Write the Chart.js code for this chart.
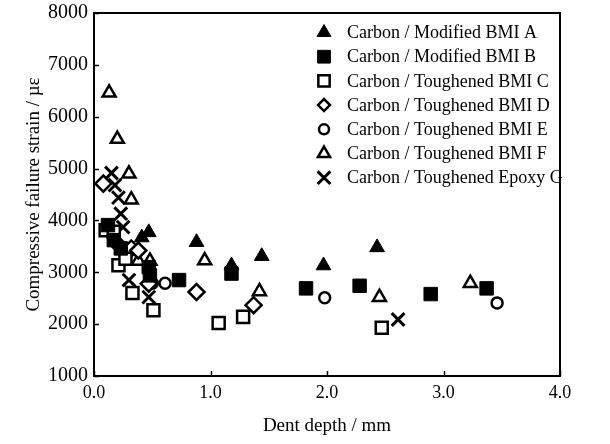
<!DOCTYPE html>
<html>
<head>
<meta charset="utf-8">
<title>Compressive failure strain vs dent depth</title>
<script src="https://cdn.jsdelivr.net/npm/chart.js"></script>
<style>
  html, body { margin: 0; padding: 0; background: #fff; }
  #wrap { width: 610px; height: 444px; }
</style>
</head>
<body>
<div id="wrap"><canvas id="chart"></canvas></div>
<script>
// --- Data: [dent depth (mm), compressive failure strain (µε)] ---
const seriesNames = [
  'Carbon / Modified BMI A',
  'Carbon / Modified BMI B',
  'Carbon / Toughened BMI C',
  'Carbon / Toughened BMI D',
  'Carbon / Toughened BMI E',
  'Carbon / Toughened BMI F',
  'Carbon / Toughened Epoxy G'
];
const modifiedA = [[0.41, 3670], [0.47, 3770], [0.88, 3580], [1.18, 3130], [1.44, 3310], [1.97, 3130], [2.43, 3480]];
const modifiedB = [[0.12, 3910], [0.17, 3620], [0.23, 3460], [0.47, 3100], [0.48, 2940], [0.73, 2850],
                   [1.18, 2975], [1.82, 2690], [2.28, 2740], [2.89, 2580], [3.37, 2690]];
const toughenedC = [[0.10, 3810], [0.17, 3780], [0.21, 3135], [0.27, 3260], [0.33, 2600], [0.51, 2270],
                    [1.07, 2020], [1.28, 2140], [2.47, 1930]];
const toughenedD = [[0.08, 4710], [0.20, 3550], [0.32, 3460], [0.38, 3420], [0.47, 2780], [0.88, 2620], [1.37, 2365]];
const toughenedE = [[0.50, 2790], [0.61, 2790], [1.98, 2510], [3.46, 2410]];
const toughenedF = [[0.13, 6460], [0.20, 5570], [0.30, 4900], [0.32, 4400], [0.38, 3220], [0.48, 3220],
                    [0.95, 3225], [1.42, 2630], [2.45, 2520], [3.23, 2790]];
const epoxyG = [[0.15, 4915], [0.18, 4680], [0.21, 4440], [0.23, 4130], [0.25, 3870], [0.30, 2850],
                [0.47, 2520], [2.61, 2090]];
const xTicks = [0, 1, 2, 3, 4];
const yTicks = [1000, 2000, 3000, 4000, 5000, 6000, 7000, 8000];

const serif = "'Liberation Serif', 'DejaVu Serif', serif";

// marker look for each series (same order as seriesNames)
const markers = [
  { pointStyle: 'triangle', pointRadius: 8.5, backgroundColor: '#000', borderColor: '#000', borderWidth: 1 },
  { pointStyle: 'rect',     pointRadius: 9.5, backgroundColor: '#000', borderColor: '#000', borderWidth: 1 },
  { pointStyle: 'rect',     pointRadius: 8.5, backgroundColor: '#fff', borderColor: '#000', borderWidth: 2.5 },
  { pointStyle: 'rectRot',  pointRadius: 8,   backgroundColor: '#fff', borderColor: '#000', borderWidth: 2.5 },
  { pointStyle: 'circle',   pointRadius: 5.5, backgroundColor: '#fff', borderColor: '#000', borderWidth: 2.5 },
  { pointStyle: 'triangle', pointRadius: 7.5, backgroundColor: '#fff', borderColor: '#000', borderWidth: 2.5 },
  { pointStyle: 'crossRot', pointRadius: 9,   backgroundColor: '#000', borderColor: '#000', borderWidth: 3 }
];
const legendRadius = [8, 9, 8, 6, 5, 7, 9];

const allSeries = [modifiedA, modifiedB, toughenedC, toughenedD, toughenedE, toughenedF, epoxyG];
const datasets = allSeries.map((pts, i) => Object.assign({
  label: seriesNames[i],
  data: pts.map(p => ({ x: p[0], y: p[1] })),
  pointHoverRadius: markers[i].pointRadius
}, markers[i]));

// frame round the plot and short inward ticks
const framePlugin = {
  id: 'frame',
  beforeDatasetsDraw(chart) {
    const { ctx, chartArea: a, scales } = chart;
    ctx.save();
    ctx.strokeStyle = '#000';
    ctx.lineWidth = 2;
    ctx.strokeRect(a.left, a.top, a.right - a.left, a.bottom - a.top);
    ctx.lineWidth = 1.5;
    ctx.beginPath();
    xTicks.forEach(v => {
      const px = Math.round(scales.x.getPixelForValue(v)) + 0.5;
      ctx.moveTo(px, a.bottom); ctx.lineTo(px, a.bottom - 5);
    });
    yTicks.forEach(v => {
      const py = Math.round(scales.y.getPixelForValue(v)) + 0.5;
      ctx.moveTo(a.left, py); ctx.lineTo(a.left + 5, py);
    });
    ctx.stroke();
    ctx.restore();
  }
};

// legend drawn inside the plot, upper right
const legendPlugin = {
  id: 'innerLegend',
  afterDatasetsDraw(chart) {
    const ctx = chart.ctx;
    const mx = 324, tx = 347, y0 = 32.5, step = 24.2;
    ctx.save();
    ctx.font = '18px ' + serif;
    ctx.textBaseline = 'middle';
    ctx.textAlign = 'left';
    seriesNames.forEach((name, i) => {
      const y = y0 + i * step;
      const m = markers[i];
      ctx.fillStyle = m.backgroundColor;
      ctx.strokeStyle = m.borderColor;
      ctx.lineWidth = m.borderWidth;
      Chart.helpers.drawPoint(ctx, {
        pointStyle: m.pointStyle, radius: legendRadius[i], rotation: 0, borderWidth: m.borderWidth
      }, mx, y);
      ctx.fillStyle = '#000';
      ctx.fillText(name, tx, y + 1);
    });
    ctx.restore();
  }
};

new Chart(document.getElementById('chart'), {
  type: 'scatter',
  data: { datasets },
  options: {
    responsive: true,
    maintainAspectRatio: false,
    animation: false,
    layout: { padding: { left: 0, right: 50, top: 13, bottom: 0 } },
    plugins: { legend: { display: false }, tooltip: { enabled: false } },
    scales: {
      x: {
        type: 'linear', min: 0, max: 4,
        afterFit: s => { s.height = 68; },
        afterBuildTicks: s => { s.ticks = xTicks.map(v => ({ value: v })); },
        grid: { display: false },
        border: { display: false },
        ticks: { color: '#000', padding: -2, font: { family: serif, size: 18 }, callback: v => v.toFixed(1) },
        title: { display: true, text: 'Dent depth / mm', color: '#000',
                 font: { family: serif, size: 19 }, padding: { top: 0, bottom: 7 } }
      },
      y: {
        type: 'linear', min: 1000, max: 8000,
        afterFit: s => { s.width = 94; },
        afterBuildTicks: s => { s.ticks = yTicks.map(v => ({ value: v })); },
        grid: { display: false },
        border: { display: false },
        ticks: { color: '#000', padding: -2, font: { family: serif, size: 20 }, callback: v => String(v) },
        title: { display: true, text: 'Compressive failure strain / µε', color: '#000',
                 font: { family: serif, size: 19 }, padding: { top: 23, bottom: 0 } }
      }
    }
  },
  plugins: [framePlugin, legendPlugin]
});
</script>
</body>
</html>
